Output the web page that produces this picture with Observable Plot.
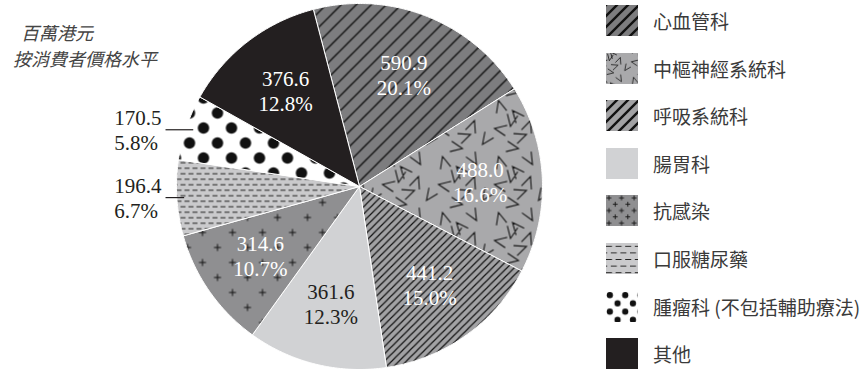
<!DOCTYPE html>
<html>
<head>
<meta charset="utf-8">
<script src="https://cdn.jsdelivr.net/npm/d3@7"></script>
<script src="https://cdn.jsdelivr.net/npm/@observablehq/plot@0.6"></script>
<style>
  body { margin: 0; background: #fff; }
  #wrap { position: relative; width: 866px; height: 369px; overflow: hidden; }
  .title { position: absolute; font-family: "Noto Sans CJK TC", "Noto Sans CJK SC", sans-serif; font-style: italic; font-size: 18px; line-height: 20px; color: #444; white-space: nowrap; }
  #legend { position: absolute; left: 606px; top: 5px; }
  .row { display: flex; align-items: center; height: 31px; margin-bottom: 16.6px; }
  .row svg { flex: none; display: block; }
  .row span { margin-left: 15px; font-family: "Noto Sans CJK TC", "Noto Sans CJK SC", sans-serif; font-size: 19px; color: #3a3a3a; white-space: nowrap; }
</style>
</head>
<body>
<div id="wrap"></div>
<script>
// ---- data ----
const categories = ["心血管科", "中樞神經系統科", "呼吸系統科", "腸胃科", "抗感染", "口服糖尿藥", "腫瘤科 (不包括輔助療法)", "其他"];
const values = [590.9, 488.0, 441.2, 361.6, 314.6, 196.4, 170.5, 376.6];
const percents = [20.1, 16.6, 15.0, 12.3, 10.7, 6.7, 5.8, 12.8];
const unitLines = ["百萬港元", "按消費者價格水平"];

// ---- styles ----
const fills = ["url(#p1)", "url(#p2)", "url(#p3)", "#d1d2d4", "url(#p5)", "url(#p6)", "url(#p7)", "#231f20"];
const legendFills = ["url(#lp1)", "url(#lp2)", "url(#lp3)", "#d1d2d4", "url(#lp5)", "url(#lp6)", "url(#lp7)", "#231f20"];
const labelColors = ["#ffffff", "#ffffff", "#ffffff", "#231f20", "#ffffff", "#231f20", "#231f20", "#ffffff"];
const outsideLabel = [false, false, false, false, false, true, true, false];

// ---- layout ----
const W = 866, H = 369, R = 183, CX = 359, CY = 186;
const startDeg = -14.6;
const a0 = startDeg * Math.PI / 180;

const arcs = d3.pie().sort(null).value(d => d).startAngle(a0).endAngle(a0 + 2 * Math.PI)(values);

const pts = [];
arcs.forEach((a, i) => {
  pts.push({k: i, x: 0, y: 0});
  const n = Math.max(2, Math.ceil((a.endAngle - a.startAngle) / (Math.PI / 360)));
  for (let j = 0; j <= n; j++) {
    const t = a.startAngle + (a.endAngle - a.startAngle) * j / n;
    pts.push({k: i, x: Math.sin(t), y: Math.cos(t)});
  }
  pts.push({k: i, x: 0, y: 0});
});

const inner = [], outer = [], leaders = [];
arcs.forEach((a, i) => {
  const m = (a.startAngle + a.endAngle) / 2;
  const txt = `${values[i].toFixed(1)}\n${percents[i].toFixed(1)}%`;
  if (outsideLabel[i]) {
    const xe = Math.sin(m) * 0.96, ye = Math.cos(m) * 0.96;
    outer.push({x: -1.34, y: ye, t: txt, c: labelColors[i]});
    leaders.push({x1: -1.06, y1: ye, x2: xe, y2: ye});
  } else {
    inner.push({x: Math.sin(m) * 0.66, y: Math.cos(m) * 0.66, t: txt, c: labelColors[i]});
  }
});

const plot = Plot.plot({
  width: W, height: H, margin: 0,
  x: {domain: [-CX / R, (W - CX) / R], range: [0, W], axis: null},
  y: {domain: [-(H - CY) / R, CY / R], range: [H, 0], axis: null},
  color: {type: "identity"},
  marks: [
    Plot.line(pts, {x: "x", y: "y", z: "k", fill: d => fills[d.k], stroke: "#ffffff", strokeWidth: 1, curve: "linear", strokeLinejoin: "round"}),
    Plot.text(inner, {x: "x", y: "y", text: "t", fill: "c", fontSize: 21, fontFamily: "Liberation Serif, serif", lineHeight: 1.19, textAnchor: "middle"}),
    Plot.text(outer, {x: "x", y: "y", text: "t", fill: "c", fontSize: 21, fontFamily: "Liberation Serif, serif", lineHeight: 1.19, textAnchor: "start"}),
    Plot.link(leaders, {x1: "x1", y1: "y1", x2: "x2", y2: "y2", stroke: "#231f20", strokeWidth: 1.2})
  ]
});

// ---- patterns ----
const defs = d3.select(plot).insert("defs", ":first-child");
function pat(id, w, h, bg) {
  const p = defs.append("pattern").attr("id", id).attr("patternUnits", "userSpaceOnUse").attr("width", w).attr("height", h);
  p.append("rect").attr("width", w).attr("height", h).attr("fill", bg);
  return p;
}
function diag(id, w, bg, sw) {
  const p = pat(id, w, w, bg);
  const e = w / 4;
  p.append("path").attr("d", `M${-e},${e}L${e},${-e}M0,${w}L${w},0M${w - e},${w + e}L${w + e},${w - e}`)
    .attr("stroke", "#111").attr("stroke-width", sw).attr("fill", "none");
}
function vees(id, k, sw) {
  const s = 56 * k;
  const p = pat(id, s, s, "#a9a9ab");
  const vList = [[6,14,10],[26,8,200],[46,16,100],[14,36,-80],[34,32,35],[50,44,165],[8,54,140],[28,52,-30],[22,22,250]];
  const L = 13 * k, h = 24 * Math.PI / 180;
  let d = "";
  for (const [vx, vy, r] of vList) {
    for (const ox of [-s, 0, s]) for (const oy of [-s, 0, s]) {
      const x = vx * k + ox, y = vy * k + oy, a = r * Math.PI / 180;
      d += `M${x + L * Math.sin(a - h)},${y - L * Math.cos(a - h)}L${x},${y}L${x + L * Math.sin(a + h)},${y - L * Math.cos(a + h)}`;
    }
  }
  p.append("path").attr("d", d).attr("stroke", "#111").attr("stroke-width", sw).attr("fill", "none");
}
function plus(id, k, sw) {
  const s = 30 * k;
  const p = pat(id, s, s, "#8f8f91");
  const a = 3.5 * Math.max(k, 0.7);
  let d = "";
  for (const [x, y] of [[7 * k, 7 * k], [22 * k, 22 * k]]) d += `M${x - a},${y}h${2 * a}M${x},${y - a}v${2 * a}`;
  p.append("path").attr("d", d).attr("stroke", "#111").attr("stroke-width", sw).attr("fill", "none");
}
function dashes(id, k, sw) {
  const w = 8 * k, h = 11 * k;
  const p = pat(id, w, h, "#cacacc");
  p.append("path").attr("d", `M0,${2.75 * k}h${5 * k}M${4 * k},${8.25 * k}h${5 * k}M${-4 * k},${8.25 * k}h${5 * k}`)
    .attr("stroke", "#222").attr("stroke-width", sw).attr("fill", "none");
}
function dots(id, k, r) {
  const w = 28 * k, h = 30 * k;
  const p = pat(id, w, h, "#ffffff");
  for (const [x, y] of [[7 * k, 7.5 * k], [21 * k, 22.5 * k], [21 * k - w, 22.5 * k], [21 * k, 22.5 * k - h], [21 * k - w, 22.5 * k - h]])
    p.append("circle").attr("cx", x).attr("cy", y).attr("r", r).attr("fill", "#111");
}
diag("p1", 15, "#7d7d7f", 1.4);
diag("p3", 7.3, "#a2a2a4", 1.2);
vees("p2", 1, 1.1);
plus("p5", 1, 1);
dashes("p6", 1, 1.1);
dots("p7", 1, 5.7);
diag("lp1", 11, "#7d7d7f", 2.4);
diag("lp3", 11, "#a2a2a4", 2.4);
vees("lp2", 0.55, 0.8);
plus("lp5", 0.42, 0.9);
dashes("lp6", 1.2, 1.1);
dots("lp7", 0.55, 3.1);

const wrap = document.getElementById("wrap");
wrap.appendChild(plot);

// ---- title lines ----
const titlePos = [[21, 22], [13, 48]];
unitLines.forEach((t, i) => {
  const d = document.createElement("div");
  d.className = "title";
  d.style.left = titlePos[i][0] + "px";
  d.style.top = titlePos[i][1] + "px";
  d.textContent = t;
  wrap.appendChild(d);
});

// ---- legend ----
const leg = document.createElement("div");
leg.id = "legend";
categories.forEach((c, i) => {
  const row = document.createElement("div");
  row.className = "row";
  row.innerHTML = `<svg width="32" height="31"><rect width="32" height="31" fill="${legendFills[i]}"></rect></svg><span>${c}</span>`;
  leg.appendChild(row);
});
wrap.appendChild(leg);
</script>
</body>
</html>
